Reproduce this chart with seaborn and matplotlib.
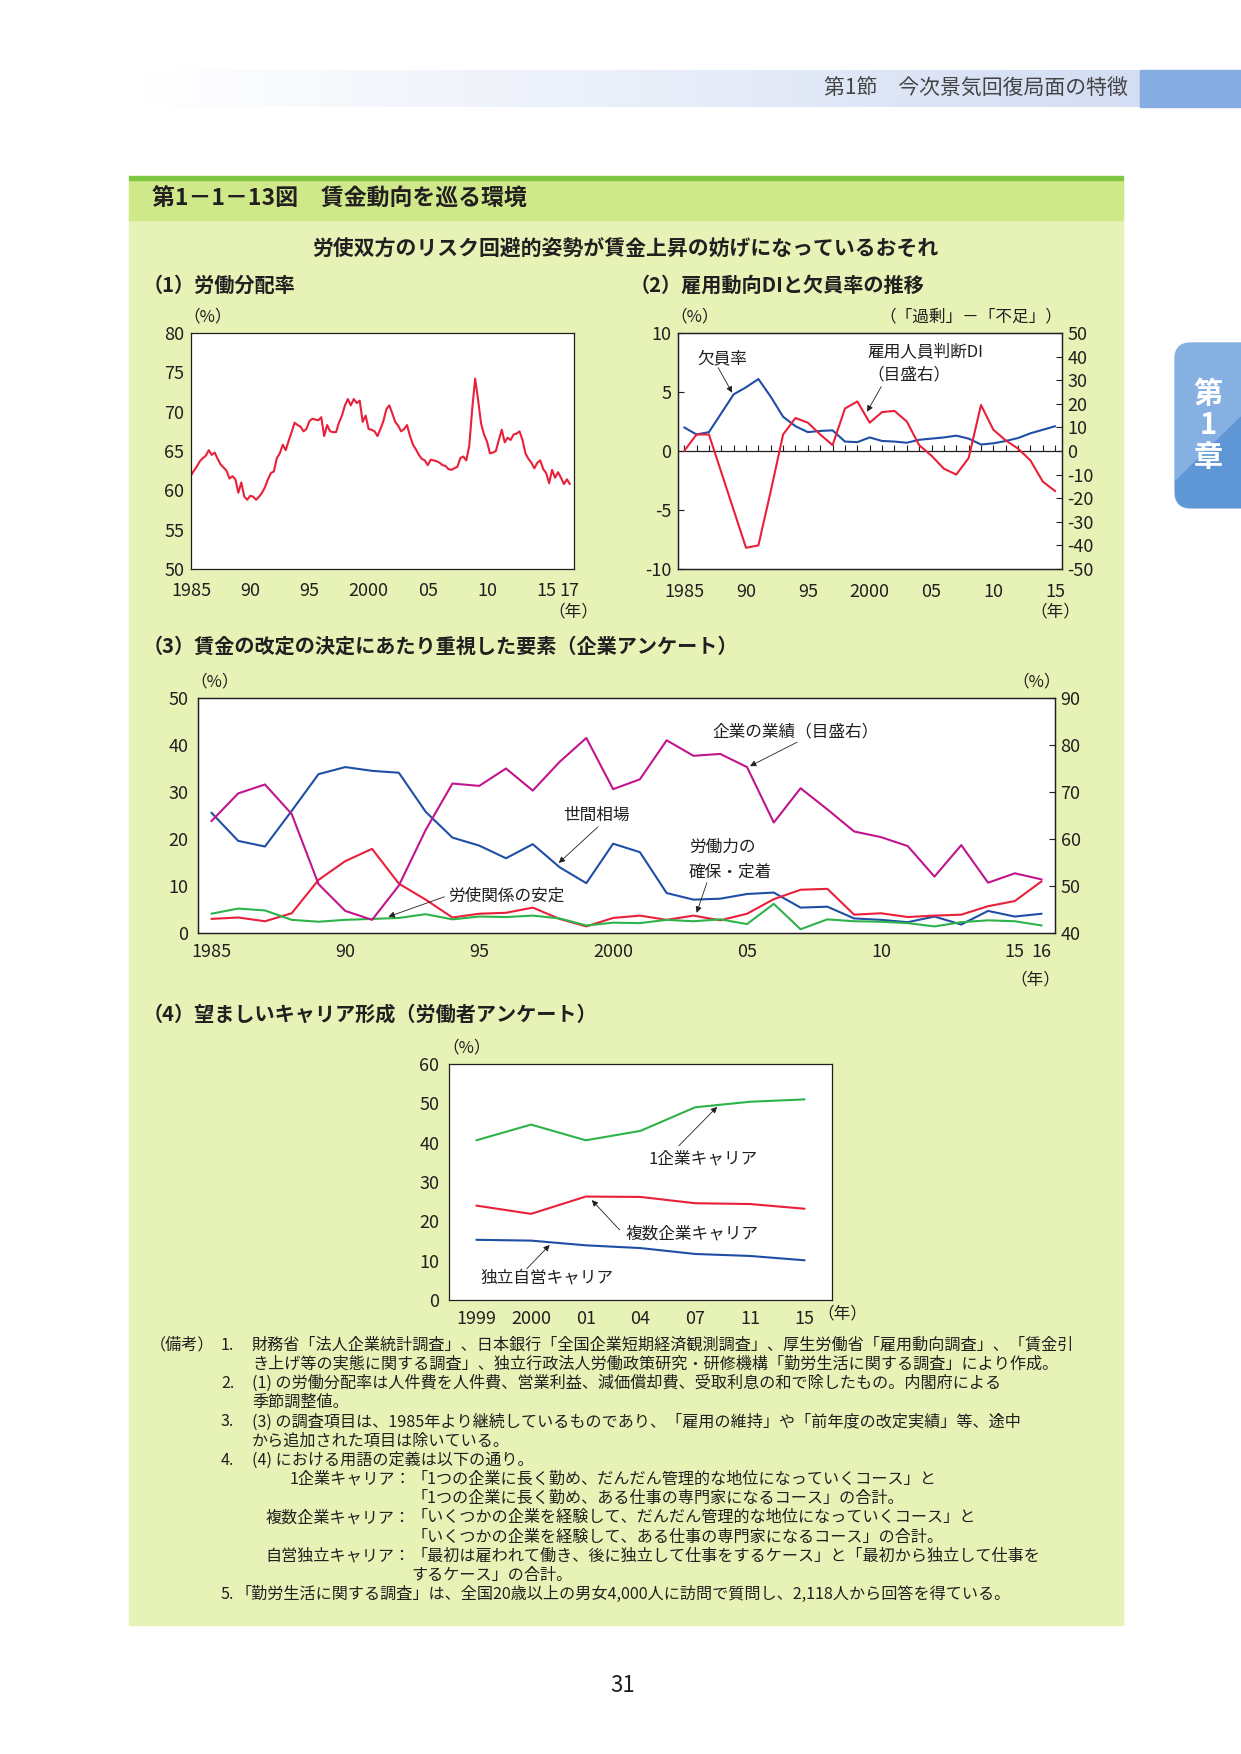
import numpy as np
import pandas as pd
import seaborn as sns
import matplotlib.pyplot as plt
from matplotlib.patches import Rectangle, FancyBboxPatch, Polygon
from matplotlib.colors import LinearSegmentedColormap

# ---------------- data ----------------
# (1) labour share, quarterly from 1985 Q1
labor_share = [61.9, 62.5, 63.05, 63.7, 64.1, 64.4, 65.1, 64.5, 64.8, 64.0, 63.3, 62.9,
               62.5, 61.5, 61.8, 61.4, 59.7, 61.0, 59.2, 58.8, 59.3, 59.2, 58.8, 59.2,
               59.7, 60.4, 61.4, 62.2, 62.4, 64.1, 64.7, 65.8, 65.1, 66.3, 67.4, 68.6,
               68.3, 68.1, 67.5, 67.8, 68.8, 69.1, 69.0, 68.9, 69.3, 66.9, 68.3, 67.5,
               67.4, 67.4, 68.6, 69.5, 70.8, 71.6, 70.8, 71.6, 71.1, 71.4, 68.7, 69.5,
               67.8, 67.7, 67.5, 66.9, 67.8, 68.8, 70.3, 70.8, 69.8, 68.7, 68.2, 67.5,
               67.8, 68.3, 66.9, 65.8, 65.2, 64.5, 64.0, 63.8, 63.2, 63.9, 63.8, 63.7,
               63.5, 63.2, 63.1, 62.7, 62.6, 62.8, 63.0, 64.1, 64.3, 63.8, 65.6, 70.3,
               74.2, 71.5, 68.5, 67.1, 66.2, 64.7, 64.8, 65.0, 66.4, 67.7, 66.1, 66.7,
               66.4, 67.1, 67.2, 67.5, 66.4, 64.7, 64.0, 63.5, 62.8, 63.5, 63.8, 62.7,
               62.2, 60.9, 62.6, 61.6, 62.3, 61.6, 60.8, 61.4, 60.8]
quarters = [1985 + i / 4 for i in range(len(labor_share))]

# (2) vacancy rate (left) and employment DI (right), 1985-2015
years2 = list(range(1985, 2016))
vacancy = [2.0, 1.4, 1.6, 3.2, 4.8, 5.4, 6.1, 4.6, 2.9, 2.1, 1.6, 1.7, 1.75, 0.8, 0.75, 1.15,
           0.85, 0.8, 0.7, 0.95, 1.05, 1.15, 1.3, 1.05, 0.55, 0.65, 0.85, 1.1, 1.5, 1.8, 2.1]
emp_di = [0, 7, 7, -9, -25, -41, -40, -17, 7, 14, 12, 7, 2.5, 18, 21, 12,
          16.5, 17, 12.5, 2.5, -2, -7.5, -10, -3, 19.5, 9, 4.5, 1, -4, -13, -17]

# (3) factors for wage revision, 1985-2016
years3 = list(range(1985, 2017))
market = [25.6, 19.6, 18.4, 26.0, 33.8, 35.3, 34.5, 34.1, 25.8, 20.3, 18.6, 15.9, 18.9, 14.0,
          10.6, 19.0, 17.2, 8.5, 7.1, 7.3, 8.3, 8.6, 5.4, 5.6, 3.1, 2.8, 2.3, 3.5, 1.8, 4.7,
          3.5, 4.1]
performance = [63.8, 69.7, 71.6, 65.3, 50.4, 44.7, 42.8, 50.1, 61.9, 71.8, 71.3, 75.0, 70.3,
               76.4, 81.5, 70.6, 72.7, 81.0, 77.7, 78.1, 75.3, 63.5, 70.8, 66.3, 61.6, 60.4,
               58.5, 52.0, 58.7, 50.7, 52.7, 51.4]
retention = [3.0, 3.3, 2.5, 4.2, 11.3, 15.3, 17.9, 10.5, 7.1, 3.3, 4.1, 4.3, 5.4, 3.0, 1.4,
             3.2, 3.7, 2.8, 3.7, 2.7, 4.1, 7.2, 9.2, 9.4, 3.9, 4.2, 3.4, 3.7, 3.9, 5.7, 6.8,
             11.0]
labor_rel = [4.1, 5.2, 4.8, 2.8, 2.4, 2.8, 3.0, 3.2, 4.0, 2.9, 3.5, 3.4, 3.7, 3.1, 1.6, 2.2,
             2.1, 2.8, 2.5, 2.9, 1.9, 6.2, 0.8, 2.9, 2.5, 2.4, 2.1, 1.4, 2.3, 2.7, 2.5, 1.6]

# (4) desired career, survey years
survey_years = ["1999", "2000", "01", "04", "07", "11", "15"]
one_company = [40.6, 44.6, 40.6, 43.0, 49.0, 50.4, 51.0]
multi_company = [24.0, 21.9, 26.3, 26.2, 24.6, 24.4, 23.2]
independent = [15.3, 15.1, 13.9, 13.2, 11.7, 11.2, 10.1]

notes = [
    "財務省「法人企業統計調査」、日本銀行「全国企業短期経済観測調査」、厚生労働省「雇用動向調査」、「賃金引",
    "き上げ等の実態に関する調査」、独立行政法人労働政策研究・研修機構「勤労生活に関する調査」により作成。",
    "(1) の労働分配率は人件費を人件費、営業利益、減価償却費、受取利息の和で除したもの。内閣府による",
    "季節調整値。",
    "(3) の調査項目は、1985年より継続しているものであり、「雇用の維持」や「前年度の改定実績」等、途中",
    "から追加された項目は除いている。",
    "(4) における用語の定義は以下の通り。",
]
career_defs = [
    ("1企業キャリア：", "「1つの企業に長く勤め、だんだん管理的な地位になっていくコース」と"),
    ("", "「1つの企業に長く勤め、ある仕事の専門家になるコース」の合計。"),
    ("複数企業キャリア：", "「いくつかの企業を経験して、だんだん管理的な地位になっていくコース」と"),
    ("", "「いくつかの企業を経験して、ある仕事の専門家になるコース」の合計。"),
    ("自営独立キャリア：", "「最初は雇われて働き、後に独立して仕事をするケース」と「最初から独立して仕事を"),
    ("", "するケース」の合計。"),
]
note5 = "「勤労生活に関する調査」は、全国20歳以上の男女4,000人に訪問で質問し、2,118人から回答を得ている。"

# ---------------- style ----------------
sns.set_theme(style="white")
plt.rcParams['font.family'] = ['Noto Sans CJK JP', 'DejaVu Sans']
plt.rcParams['axes.unicode_minus'] = False

RED = '#e8203a'
BLUE = '#1f4ea6'
MAG = '#c0158d'
GRN = '#2eb24a'
INK = '#231f20'
W, H = 1241, 1754
TICK_FS = 13
ANN_FS = 12

fig = plt.figure(figsize=(W / 100, H / 100), dpi=100)
fig.patch.set_facecolor('white')

bg = fig.add_axes([0, 0, 1, 1], zorder=0)
bg.axis('off')


def px_axes(l, t, r, b):
    ax = fig.add_axes([l / W, 1 - b / H, (r - l) / W, (b - t) / H], zorder=2)
    ax.set_facecolor('white')
    for s in ax.spines.values():
        s.set_color(INK)
        s.set_linewidth(0.9)
        s.set_visible(True)
    ax.tick_params(colors=INK, labelsize=TICK_FS, direction='in', width=0.8, length=4)
    return ax


def arrow(ax, start, tip):
    ax.annotate('', xy=tip, xytext=start, textcoords='data',
                arrowprops=dict(arrowstyle='-|>', color=INK, lw=0.6,
                                mutation_scale=9, shrinkA=0, shrinkB=0))


# ---------------- page decoration ----------------
grad = LinearSegmentedColormap.from_list('hdr', ['#ffffff', '#d3ddf3'])
bg.imshow(np.linspace(0, 1, 256).reshape(1, -1), cmap=grad, aspect='auto',
          extent=(143, 1140, 107, 70), zorder=1)
bg.add_patch(Rectangle((1140, 70), 101, 37, color='#86ade2', zorder=1))
bg.text(1128, 89, "第1節　今次景気回復局面の特徴", ha='right', va='center',
        fontsize=15, color='#444444', zorder=3)

tab = FancyBboxPatch((1175, 343), 90, 165, boxstyle='round,pad=0,rounding_size=16',
                     color='#86b0e2', zorder=1)
bg.add_patch(tab)
dark = Polygon([(1175, 482), (1241, 417), (1241, 520), (1175, 520)], color='#5f97d6', zorder=2)
bg.add_patch(dark)
dark.set_clip_path(tab)
for ch, yy in zip(["第", "1", "章"], [394, 425, 457]):
    bg.text(1208, yy, ch, ha='center', va='center', fontsize=21, fontweight='bold',
            color='white', zorder=3)

bg.add_patch(Rectangle((129, 180), 994, 1445, color='#e7f3b6', zorder=1))
bg.add_patch(Rectangle((129, 180), 994, 40, color='#cfe98a', zorder=1))
bg.add_patch(Rectangle((129, 176), 994, 4, color='#7dc745', zorder=1))

bg.text(152, 199, "第1－1－13図　賃金動向を巡る環境", ha='left', va='center',
        fontsize=16.5, fontweight='bold', color=INK, zorder=3)
bg.text(625, 248, "労使双方のリスク回避的姿勢が賃金上昇の妨げになっているおそれ", ha='center',
        va='center', fontsize=15, fontweight='bold', color=INK, zorder=3)
bg.text(143, 285, "（1）労働分配率", ha='left', va='center', fontsize=14.5,
        fontweight='bold', color=INK, zorder=3)
bg.text(630, 285, "（2）雇用動向DIと欠員率の推移", ha='left', va='center', fontsize=14.5,
        fontweight='bold', color=INK, zorder=3)
bg.text(143, 646, "（3）賃金の改定の決定にあたり重視した要素（企業アンケート）", ha='left',
        va='center', fontsize=14.5, fontweight='bold', color=INK, zorder=3)
bg.text(143, 1014, "（4）望ましいキャリア形成（労働者アンケート）", ha='left', va='center',
        fontsize=14.5, fontweight='bold', color=INK, zorder=3)

# unit labels
for x, y, s, ha in [(208, 317, "（%）", 'center'), (573, 612, "（年）", 'center'),
                    (695, 317, "（%）", 'center'), (1062, 317, "（「過剰」－「不足」）", 'right'),
                    (1055, 612, "（年）", 'center'),
                    (215, 682, "（%）", 'center'), (1037, 682, "（%）", 'center'),
                    (1035, 980, "（年）", 'center'),
                    (467, 1048, "（%）", 'center'), (842, 1314, "（年）", 'center')]:
    bg.text(x, y, s, ha=ha, va='center', fontsize=12, color=INK, zorder=3)

# notes
fs_note = 11.6
y0, dy = 1345, 19.2
bg.text(150, y0, "（備考）", ha='left', va='center', fontsize=fs_note, color=INK, zorder=3)
line = 0
for i, txt in enumerate(notes):
    if i in (0, 2, 4, 6):
        bg.text(221, y0 + line * dy, f"{i // 2 + 1}.", ha='left', va='center',
                fontsize=fs_note, color=INK, zorder=3)
    bg.text(252, y0 + line * dy, txt, ha='left', va='center', fontsize=fs_note,
            color=INK, zorder=3)
    line += 1
for head, body in career_defs:
    if head:
        bg.text(411, y0 + line * dy, head, ha='right', va='center', fontsize=fs_note,
                color=INK, zorder=3)
    bg.text(411, y0 + line * dy, body, ha='left', va='center', fontsize=fs_note,
            color=INK, zorder=3)
    line += 1
bg.text(221, y0 + line * dy, "5.", ha='left', va='center', fontsize=fs_note, color=INK, zorder=3)
bg.text(236, y0 + line * dy, note5, ha='left', va='center', fontsize=fs_note, color=INK, zorder=3)

bg.text(623, 1686, "31", ha='center', va='center', fontsize=16, color=INK, zorder=3)

bg.set_xlim(0, W)
bg.set_ylim(H, 0)

# ---------------- (1) labour share ----------------
ax1 = px_axes(191, 333, 574, 569)
sns.lineplot(x=quarters, y=labor_share, ax=ax1, color=RED, lw=1.5)
ax1.set_xlim(1985, 2017.35)
ax1.set_ylim(50, 80)
ax1.set_yticks(range(50, 81, 5))
yrs1 = list(range(1985, 2018))
lab1 = {1985: '1985', 1990: '90', 1995: '95', 2000: '2000', 2005: '05', 2010: '10',
        2015: '15', 2017: '17'}
ax1.set_xticks(yrs1)
ax1.set_xticklabels([lab1.get(y, '') for y in yrs1])
ax1.tick_params(axis='x', pad=9)
ax1.tick_params(axis='y', pad=5)
ax1.set_xlabel('')
ax1.set_ylabel('')

# ---------------- (2) vacancy rate & DI ----------------
ax2 = px_axes(678, 333, 1062, 569)
ax2.axhline(0, color=INK, lw=0.9, zorder=1)
sns.lineplot(x=years2, y=vacancy, ax=ax2, color=BLUE, lw=1.5, zorder=3)
ax2.set_xlim(1984.5, 2015.55)
ax2.set_ylim(-10, 10)
ax2.set_yticks([-10, -5, 0, 5, 10])
ax2.set_yticklabels(['-10', '-5', '0', '5', '10'])
lab2 = {1985: '1985', 1990: '90', 1995: '95', 2000: '2000', 2005: '05', 2010: '10', 2015: '15'}
ax2.set_xticks(list(lab2.keys()))
ax2.set_xticklabels(list(lab2.values()))
ax2.tick_params(axis='x', length=0, pad=10)
ax2.tick_params(axis='y', pad=5)
ax2.set_xlabel('')
ax2.set_ylabel('')
zero_axis = ax2.secondary_xaxis(0.5)
zero_axis.set_xticks(years2)
zero_axis.tick_params(axis='x', direction='out', length=4, width=0.8, colors=INK,
                      labeltop=False, labelbottom=False)
for s in zero_axis.spines.values():
    s.set_visible(False)

ax2r = ax2.twinx()
sns.lineplot(x=years2, y=emp_di, ax=ax2r, color=RED, lw=1.5)
ax2r.set_ylim(-50, 50)
ax2r.set_yticks(range(-50, 51, 10))
ax2r.set_yticklabels([str(v) for v in range(-50, 51, 10)])
ax2r.tick_params(axis='y', colors=INK, labelsize=TICK_FS, direction='in', length=4,
                 width=0.8, pad=4)
ax2r.set_ylabel('')
for s in ax2r.spines.values():
    s.set_color(INK)
    s.set_linewidth(0.9)

ax2.text(1988.07, 7.82, "欠員率", ha='center', va='center', fontsize=ANN_FS, color=INK)
arrow(ax2, (1987.75, 7.06), (1988.88, 4.94))
ax2.text(1999.8, 8.42, "雇用人員判断DI", ha='left', va='center', fontsize=ANN_FS, color=INK)
ax2.text(1999.8, 6.47, "（目盛右）", ha='left', va='center', fontsize=ANN_FS, color=INK)
arrow(ax2, (2000.93, 5.45), (1999.79, 3.33))

# ---------------- (3) wage revision factors ----------------
ax3 = px_axes(198, 698, 1055, 933)
sns.lineplot(x=years3, y=market, ax=ax3, color=BLUE, lw=1.5)
sns.lineplot(x=years3, y=retention, ax=ax3, color=RED, lw=1.5)
sns.lineplot(x=years3, y=labor_rel, ax=ax3, color=GRN, lw=1.5)
ax3.set_xlim(1984.5, 2016.5)
ax3.set_ylim(0, 50)
ax3.set_yticks(range(0, 51, 10))
lab3 = {1985: '1985', 1990: '90', 1995: '95', 2000: '2000', 2005: '05', 2010: '10',
        2015: '15', 2016: '16'}
ax3.set_xticks(years3)
ax3.set_xticklabels([lab3.get(y, '') for y in years3])
ax3.tick_params(axis='x', pad=7)
ax3.tick_params(axis='y', length=0, pad=7)
ax3.set_xlabel('')
ax3.set_ylabel('')

ax3r = ax3.twinx()
sns.lineplot(x=years3, y=performance, ax=ax3r, color=MAG, lw=1.5)
ax3r.set_ylim(40, 90)
ax3r.set_yticks(range(40, 91, 10))
ax3r.tick_params(axis='y', colors=INK, labelsize=TICK_FS, direction='in', length=4,
                 width=0.8, pad=4)
ax3r.set_ylabel('')
for s in ax3r.spines.values():
    s.set_color(INK)
    s.set_linewidth(0.9)

ax3.text(1999.38, 25.1, "世間相場", ha='center', va='center', fontsize=ANN_FS, color=INK)
arrow(ax3, (1999.43, 22.56), (1997.97, 14.9))
ax3.text(1996.02, 7.92, "労使関係の安定", ha='center', va='center', fontsize=ANN_FS, color=INK)
arrow(ax3, (1993.70, 7.7), (1991.61, 3.47))
ax3.text(2006.80, 42.7, "企業の業績（目盛右）", ha='center', va='center', fontsize=ANN_FS,
         color=INK)
arrow(ax3, (2006.87, 40.6), (2005.11, 35.5))
ax3.text(2002.83, 18.3, "労働力の", ha='left', va='center', fontsize=ANN_FS, color=INK)
ax3.text(2002.83, 13.0, "確保・定着", ha='left', va='center', fontsize=ANN_FS, color=INK)
arrow(ax3, (2003.50, 10.7), (2003.12, 4.3))

# ---------------- (4) desired career ----------------
ax4 = px_axes(449, 1064, 832, 1300)
pos4 = list(range(len(survey_years)))
sns.lineplot(x=pos4, y=one_company, ax=ax4, color=GRN, lw=1.5)
sns.lineplot(x=pos4, y=multi_company, ax=ax4, color=RED, lw=1.5)
sns.lineplot(x=pos4, y=independent, ax=ax4, color=BLUE, lw=1.5)
ax4.set_xlim(-0.5, len(survey_years) - 0.5)
ax4.set_ylim(0, 60)
ax4.set_yticks(range(0, 61, 10))
ax4.set_xticks([p + 0.5 for p in pos4[:-1]])
ax4.set_xticklabels([])
ax4.set_xticks(pos4, minor=True)
ax4.set_xticklabels(survey_years, minor=True)
ax4.tick_params(axis='x', which='minor', length=0, pad=7, labelsize=TICK_FS, colors=INK)
ax4.tick_params(axis='y', length=0, pad=7)
ax4.set_xlabel('')
ax4.set_ylabel('')

ax4.text(4.14, 35.85, "1企業キャリア", ha='center', va='center', fontsize=ANN_FS, color=INK)
arrow(ax4, (3.70, 39.2), (4.40, 49.1))
ax4.text(3.94, 16.8, "複数企業キャリア", ha='center', va='center', fontsize=ANN_FS, color=INK)
arrow(ax4, (2.62, 17.8), (2.11, 25.4))
ax4.text(1.29, 5.6, "独立自営キャリア", ha='center', va='center', fontsize=ANN_FS, color=INK)
arrow(ax4, (0.92, 7.9), (1.34, 14.0))

fig.savefig("out.png", dpi=100, facecolor=fig.get_facecolor())
